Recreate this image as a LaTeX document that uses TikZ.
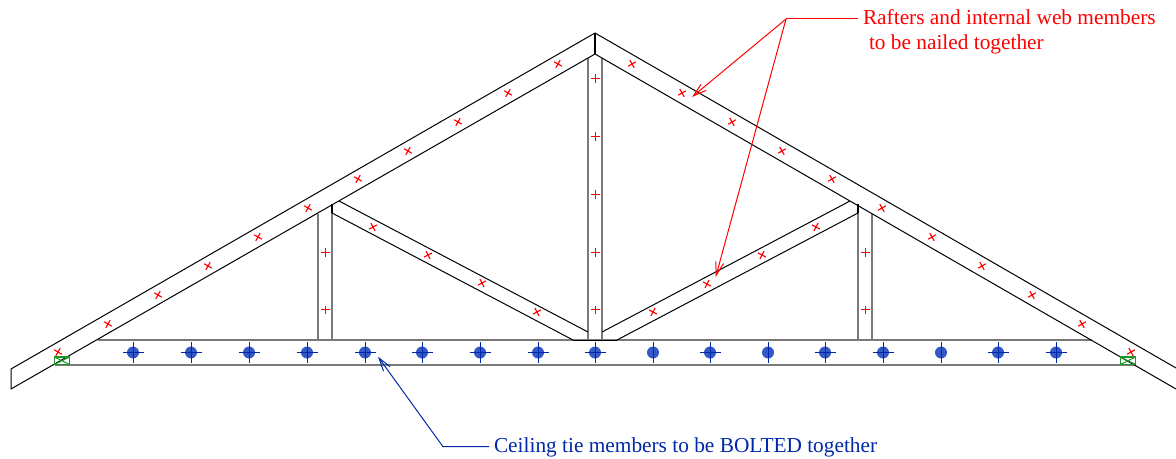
\documentclass[tikz,border=0pt]{standalone}
\usepackage{fontspec}
\setmainfont{Liberation Serif}
\usetikzlibrary{arrows.meta}

\definecolor{nailred}{RGB}{255,0,0}
\definecolor{boltblue}{RGB}{0,40,170}
\definecolor{boltfill}{RGB}{52,88,196}
\definecolor{platetext}{RGB}{30,150,40}

\tikzset{every picture/.style={line width=0.75pt},
    member/.style={draw=black,line width=0.75pt},
    squaremember/.style={draw=black!52,line width=1.5pt},
    joint/.style={draw=black,line width=1.4pt},
    leader/.style={line width=0.75pt,-{Straight Barb[length=10pt,width=6pt]}},
    labeltext/.style={anchor=west,inner sep=0.75pt,outer sep=3pt,text height=12pt,text depth=3pt,font=\fontsize{16}{19}\selectfont},
    nailmark/.pic={\draw [color=nailred,line width=0.85pt] (-4.4,0) -- (4.4,0) (0,-4.4) -- (0,4.4);},
    boltmark/.pic={\fill [boltfill] (0,0) circle (6);\draw [color=boltblue,line width=0.75pt] (0,-10.5) -- (0,10.5);},
    boltcross/.pic={\draw [color=boltblue,line width=0.75pt] (-10.5,0) -- (10.5,0);},
    platemark/.pic={\draw [color=platetext,line width=1.1pt] (-7.7,0) rectangle (7.7,7.5);\draw [color=platetext,line width=0.75pt] (-7.7,0) -- (7.7,7.5) (-7.7,7.5) -- (7.7,0);}}

\begin{document}
\begin{tikzpicture}[x=0.75pt,y=0.75pt,yscale=-1,xscale=1]
    \useasboundingbox (0,0) rectangle (1176,459);

    %Ceiling tie
    \draw [squaremember] (98,340) -- (1092,340) ;
    \draw [squaremember] (55,365) -- (1135,365) ;
    \draw [member] (573,340) -- (617,340) ;

    %Posts
    \draw [squaremember] (588,58) -- (588,340) ;
    \draw [squaremember] (602,58) -- (602,340) ;
    \draw [squaremember] (318,214) -- (318,340) ;
    \draw [squaremember] (332,206) -- (332,340) ;
    \draw [squaremember] (858,206) -- (858,340) ;
    \draw [squaremember] (872,214) -- (872,340) ;
    \draw [joint] (332,204) -- (332,213) ;
    \draw [joint] (858,204) -- (858,213) ;

    %Rafters
    \draw [member] (595,33) -- (11,369) -- (11,389) -- (595,54) ;
    \draw [member] (595,33) -- (1176,368) ;
    \draw [member] (595,54) -- (1176,389) ;
    \draw [joint] (595,33) -- (595,54) ;

    %Webs
    \draw [member] (339,201) -- (588,332) ;
    \draw [member] (332,213) -- (573,340) ;
    \draw [member] (602,332) -- (850,201) ;
    \draw [member] (617,340) -- (858,213) ;

    %Nails on the left rafter
    \foreach \px/\py in {58/352,108/324,158/295,208/266,258/237,308/208,358/179,408/151,458/122,508/93,558/64}
        \pic [rotate=-30] at (\px,\py) {nailmark};
    %Nails on the right rafter
    \foreach \px/\py in {632/64,682/93,732/122,782/151,832/179,882/208,932/237,982/266,1032/295,1082/324,1131/352}
        \pic [rotate=30] at (\px,\py) {nailmark};
    %Nails on the posts
    \foreach \px/\py in {595.5/78.5,595.5/136.5,595.5/194.5,595.5/252.5,595.5/309.9,325.5/252.5,325.5/309.9,865.5/252.5,865.5/309.9}
        \pic at (\px,\py) {nailmark};
    %Nails on the webs
    \foreach \px/\py in {373/227,428/255,482/283,537/312}
        \pic [rotate=28] at (\px,\py) {nailmark};
    \foreach \px/\py in {653/312,707/284,762/255,816/227}
        \pic [rotate=-28] at (\px,\py) {nailmark};

    %Bolts
    \foreach \px in {133,191,249,307,365,422,480,538,595,653,710,768,825,883,941,998,1056}
        \pic at (\px,352.5) {boltmark};
    \foreach \px in {133,191,249,307,365,422,480,538,595,710,825,883,998,1056}
        \pic at (\px,352.5) {boltcross};

    %Plates
    \pic at (62,364.5) {platemark};
    \pic at (1128,364.5) {platemark};

    % Text Node
    \node (rafterlabel) at (858,19) [labeltext,text=nailred] {Rafters and internal web members};
    % Text Node
    \node (rafterlabelb) at (864,44) [labeltext,text=nailred] {to be nailed together};
    % Text Node
    \node (tielabel) at (489,446.7) [labeltext,text=boltblue] {Ceiling tie members to be BOLTED together};

    %Leaders
    \coordinate (rafterelbow) at (786,19);
    \coordinate (raftertip) at (692,97);
    \coordinate (webtip) at (715.7,277);
    \coordinate (tieelbow) at (443,446.7);
    \coordinate (tietip) at (378,356.7);
    \draw [color=nailred,line width=0.75pt] (rafterlabel.west) -- (rafterelbow) ;
    \draw [leader,color=nailred] (rafterelbow) -- (raftertip) ;
    \draw [leader,color=nailred] (rafterelbow) -- (webtip) ;
    \draw [leader,color=boltblue] (tielabel.west) -- (tieelbow) -- (tietip) ;

\end{tikzpicture}
\end{document}
